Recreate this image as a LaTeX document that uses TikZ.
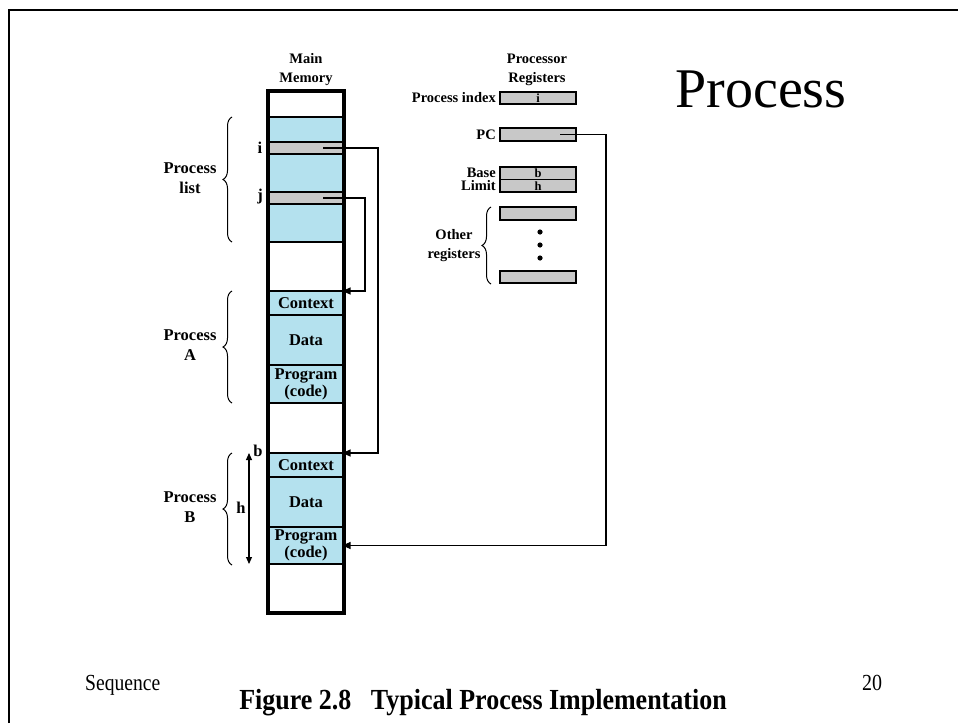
\documentclass[tikz,border=0pt]{standalone}
\usepackage{fontspec}
\setmainfont{Liberation Serif}
\usetikzlibrary{arrows.meta,decorations.pathreplacing,calc}
\definecolor{memblue}{RGB}{180,225,238}
\definecolor{reggray}{RGB}{200,200,200}
\begin{document}
\begin{tikzpicture}[x=1pt,y=-1pt,
  seg/.style={draw, line width=1.3pt, minimum width=76pt, inner sep=0pt, outer sep=0pt,
     font=\fontsize{16.5}{17}\selectfont\bfseries, align=center},
  blueseg/.style={seg, fill=memblue},
  whiteseg/.style={seg, fill=white},
  grayrow/.style={seg, fill=reggray, minimum height=12pt},
  reg/.style={draw, line width=1.3pt, fill=reggray, minimum width=76pt, inner sep=0pt,
     outer sep=0pt, font=\fontsize{12.5}{12}\selectfont\bfseries},
  lbl/.style={font=\fontsize{14.5}{19}\selectfont\bfseries, align=center, inner sep=0pt},
  side/.style={font=\fontsize{16.5}{20}\selectfont\bfseries, align=center, inner sep=0pt},
  conn/.style={line width=1.1pt, -{Triangle[length=8pt,width=7pt]}, shorten >=-1.5pt},
  brc/.style={decorate, decoration={brace,amplitude=9pt}, line width=1pt},
  dimarrow/.style={line width=1.1pt, {Triangle[length=7pt,width=6pt]}-{Triangle[length=7pt,width=6pt]}}
]
\useasboundingbox (0,0) rectangle (958,723);
% frame
\draw[line width=2.5pt] (9,723) -- (9,10) -- (958,10);

% memory segments
\node[whiteseg, minimum height=26pt] (w1) at (306,104) {};
\node[blueseg, minimum height=125pt] (plist) at (306,179.5) {};
\node[grayrow] (irow) at (306,148) {};
\node[grayrow] (jrow) at (306,198) {};
\node[whiteseg, minimum height=49pt] (w2) at (306,266.5) {};
\node[blueseg, minimum height=24pt] (ctxA) at (306,303) {Context};
\node[blueseg, minimum height=50pt] (dataA) at (306,340) {Data};
\node[blueseg, minimum height=38pt] (progA) at (306,384) {Program\\(code)};
\node[whiteseg, minimum height=50pt] (w3) at (306,428) {};
\node[blueseg, minimum height=24pt] (ctxB) at (306,465) {Context};
\node[blueseg, minimum height=50pt] (dataB) at (306,502) {Data};
\node[blueseg, minimum height=37pt] (progB) at (306,545.5) {Program\\(code)};
\node[whiteseg, minimum height=49pt] (w4) at (306,588.5) {};
\node[draw, line width=3.3pt, minimum width=76pt, minimum height=522pt, inner sep=0pt] (mem) at (306,352) {};

\node[lbl] (mmt) at (306,70) {Main\\Memory};
\node[side] (il) at (260,148) {i};
\node[side] (jl) at (260,197) {j};

% registers
\node[lbl] (prt) at (537,70) {Processor\\Registers};
\node[reg, minimum height=12pt] (pidx) at (538,98) {i};
\node[reg, minimum height=13pt] (pc) at (538,134.5) {};
\node[reg, minimum height=12.5pt] (base) at (538,173.25) {b};
\node[reg, minimum height=12.5pt] (limit) at (538,185.75) {h};
\node[reg, minimum height=13pt] (o1) at (538,213.5) {};
\node[reg, minimum height=12pt] (o2) at (538,277) {};
\node[lbl, anchor=east] (pidxl) at ($(pidx.west)+(-4,0)$) {Process index};
\node[lbl, anchor=east] (pcl) at ($(pc.west)+(-4,0)$) {PC};
\node[lbl, anchor=east] (basel) at ($(base.west)+(-4,0)$) {Base};
\node[lbl, anchor=east] (limitl) at ($(limit.west)+(-4,0)$) {Limit};
\fill (540,232) circle (2.6pt) (540,245) circle (2.6pt) (540,258) circle (2.6pt);
\draw[brc] (491,284) -- (491,207);
\node[lbl] (othl) at (454,246) {Other\\registers};

% side braces and labels
\draw[brc] (232,242) -- (232,117);
\node[side] (pll) at (190,178) {Process\\list};
\draw[brc] (232,403) -- (232,291);
\node[side] (pal) at (190,345) {Process\\A};
\draw[brc] (232,565) -- (232,453);
\node[side] (pbl) at (190,507) {Process\\B};

% b / h dimension
\coordinate (bt) at (249,453);
\coordinate (hb) at (249,564);
\draw[dimarrow] (bt) -- (hb);
\node[side] (bl) at (258,451) {b};
\node[side] (hl) at (241,508) {h};

% connectors
\coordinate (ia) at (323,148);
\coordinate (ja) at (323,198);
\coordinate (pca) at (560,134.5);
\draw[conn] (ia) -| ($(ctxB.north east)+(34,0)$) -- (ctxB.north east);
\draw[conn] (ja) -| ($(ctxA.north east)+(21,0)$) -- (ctxA.north east);
\draw[conn] (pca) -| ($(progB.east)+(262,0)$) -- (progB.east);

% titles
\node[anchor=base, font=\fontsize{56}{56}\selectfont, inner sep=0pt] (title) at (761,107) {Process};
\node[anchor=base west, font=\fontsize{20}{20}\selectfont, inner sep=0pt] (seq) at (85,690) {\scalebox{0.98}[1.15]{Sequence}};
\node[anchor=base, font=\fontsize{20}{20}\selectfont, inner sep=0pt] (pg) at (872,690) {\scalebox{1}[1.15]{20}};
\node[anchor=base, font=\fontsize{26}{26}\selectfont\bfseries, inner sep=0pt] (cap) at (483,709) {\scalebox{1}[1.12]{Figure 2.8\enspace\ Typical Process Implementation}};
\end{tikzpicture}
\end{document}
